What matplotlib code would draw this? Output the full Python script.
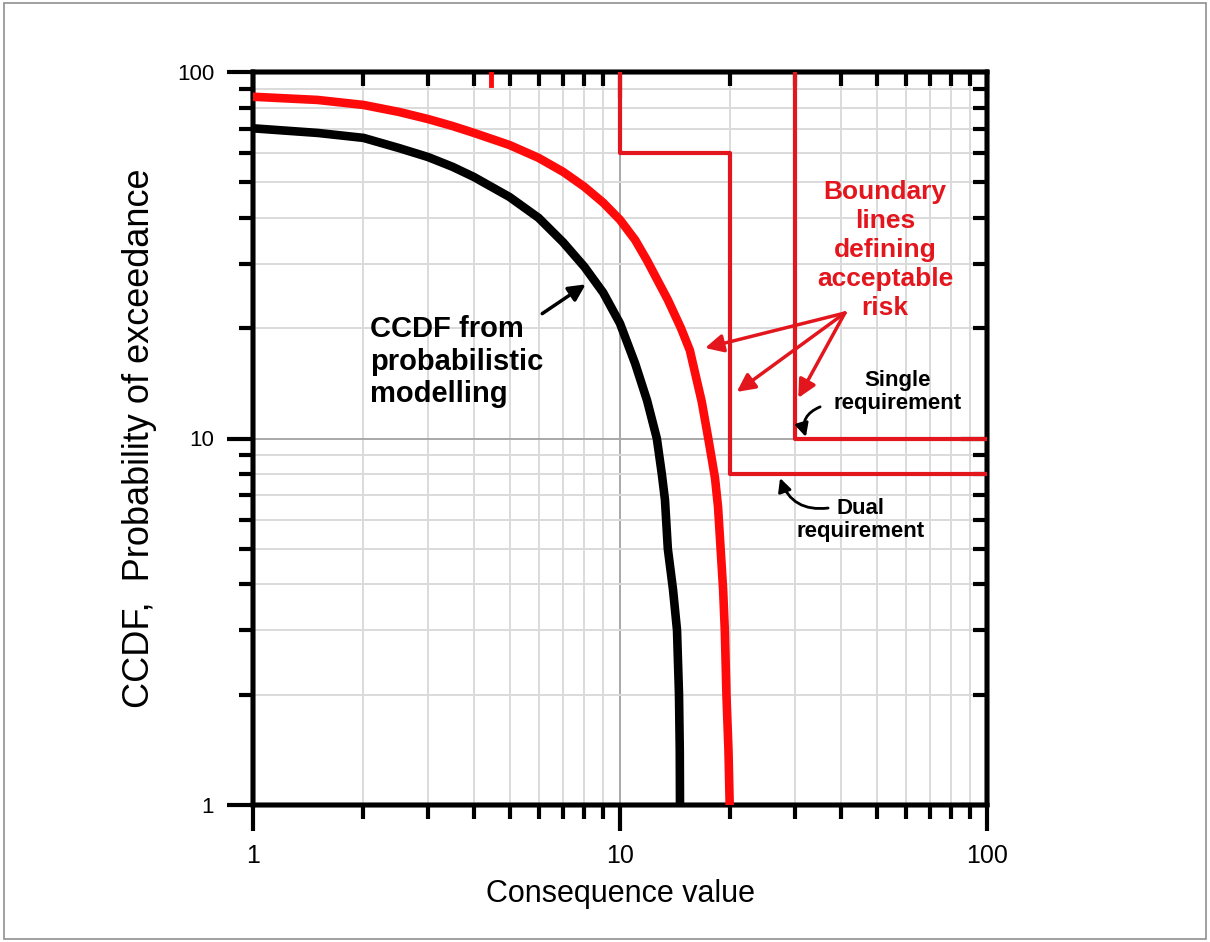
import matplotlib
matplotlib.use("Agg")
import matplotlib.pyplot as plt
from matplotlib.patches import Rectangle
from matplotlib.ticker import NullFormatter

plt.rcParams['font.family'] = ['Liberation Sans', 'DejaVu Sans']

# CCDF from probabilistic modelling (black)
ccdf_x = [1.0, 1.5, 2.0, 2.5, 3.0, 3.5, 4.0, 5.0, 6.0, 7.0, 8.0, 9.0, 10.0, 11.0, 11.85,
          12.6, 13.0, 13.26, 13.5, 13.95, 14.3, 14.48, 14.55, 14.57]
ccdf_y = [70.2, 68.2, 66.1, 62.0, 58.6, 55.1, 51.7, 45.6, 40.0, 34.3, 29.4, 25.0, 20.6, 16.0, 12.7,
          10.0, 8.0, 6.8, 5.0, 3.86, 3.0, 2.0, 1.41, 1.0]

# boundary curve (red, thick)
bound_x = [1.0, 1.5, 2.0, 2.5, 3.0, 3.5, 4.0, 5.0, 6.0, 7.0, 8.0, 9.0, 10.0, 11.0, 11.85,
           13.5, 14.66, 15.5, 16.7, 17.4, 18.15, 18.5, 18.8, 19.1, 19.3, 19.5, 19.75, 19.9]
bound_y = [85.6, 83.9, 81.3, 77.8, 74.4, 71.2, 68.2, 63.2, 58.3, 53.4, 48.6, 44.0, 39.5, 34.8, 30.6,
           23.9, 20.0, 17.4, 12.6, 10.0, 7.8, 6.5, 5.0, 3.86, 3.0, 2.0, 1.41, 1.0]

# stepped boundaries
dual_x = [10, 10, 20, 20, 100]
dual_y = [100, 60, 60, 8, 8]
single_x = [30, 30, 100]
single_y = [100, 10, 10]

fig = plt.figure(figsize=(12.10, 9.42), dpi=100)
rect = [253 / 1210, 1 - 805 / 942, 734 / 1210, 733 / 942]
ax = fig.add_axes(rect)
ax.set_xscale('log')
ax.set_yscale('log')
ax.set_xlim(1, 100)
ax.set_ylim(1, 100)

ax.grid(True, which='minor', color='#dadada', lw=1.4, zorder=0)
ax.grid(True, which='major', color='#a8a8a8', lw=1.4, zorder=0)
ax.set_axisbelow(True)

red = '#ff0a0a'
tred = '#e3161d'

for s in ax.spines.values():
    s.set_linewidth(3.2)
ax.tick_params(which='major', direction='out', length=19, width=3, labelsize=18, pad=9)
ax.tick_params(which='minor', direction='out', length=10, width=3)
ax.tick_params(axis='y', which='major', labelsize=16, pad=9)
ax.set_xticks([1, 10, 100], ['1', '10', '100'])
ax.set_yticks([1, 10, 100], ['1', '10', '100'])
ax.xaxis.set_minor_formatter(NullFormatter())
ax.yaxis.set_minor_formatter(NullFormatter())

# inward ticks on top and right (twin axes)
axt = ax.twiny()
axt.set_xscale('log')
axt.set_xlim(1, 100)
axt.tick_params(which='major', direction='in', length=19, width=3, labeltop=False)
axt.tick_params(which='minor', direction='in', length=10, width=3)
axt.xaxis.set_minor_formatter(NullFormatter())
axr = ax.twinx()
axr.set_yscale('log')
axr.set_ylim(1, 100)
axr.tick_params(which='major', direction='in', length=19, width=3, labelright=False)
axr.tick_params(which='minor', direction='in', length=10, width=3)
axr.yaxis.set_minor_formatter(NullFormatter())
for a in (axt, axr):
    for s in a.spines.values():
        s.set_linewidth(3.2)

# lines drawn on the top-most twin so they sit above the inward ticks
axr.plot(dual_x, dual_y, color=tred, lw=3.0, zorder=3)
axr.plot(single_x, single_y, color=tred, lw=3.0, zorder=3)
axr.plot([4.45, 4.45], [100, 92], color=red, lw=3.5, zorder=3)
axr.plot(bound_x, bound_y, color=red, lw=6.2, solid_capstyle='round', solid_joinstyle='round', zorder=4)
axr.plot(ccdf_x, ccdf_y, color='black', lw=6.2, solid_capstyle='round', solid_joinstyle='round', zorder=4)

ax.set_xlabel('Consequence value', fontsize=22, labelpad=8)
ax.set_ylabel('CCDF,  Probability of exceedance', fontsize=26, labelpad=14)

# annotations
axr.text(2.08, 16.2, 'CCDF from\nprobabilistic\nmodelling', fontsize=21, fontweight='bold',
         ha='left', va='center', linespacing=1.2, zorder=5)
axr.annotate('', xy=(8.18, 26.6), xytext=(6.05, 21.7),
             arrowprops=dict(arrowstyle='-|>', color='black', lw=2.5, mutation_scale=25), zorder=5)

axr.text(52.7, 32.7, 'Boundary\nlines\ndefining\nacceptable\nrisk', fontsize=19, fontweight='bold',
         color=tred, ha='center', va='center', linespacing=1.27, zorder=5)
for tip in [(17.05, 17.66), (20.8, 13.4), (30.6, 12.9)]:
    axr.annotate('', xy=tip, xytext=(41.0, 22.0),
                 arrowprops=dict(arrowstyle='-|>', color=tred, lw=2.5, mutation_scale=27,
                                 shrinkA=0, shrinkB=0), zorder=5)

axr.text(56.9, 13.4, 'Single\nrequirement', fontsize=16, fontweight='bold',
         ha='center', va='center', linespacing=1.15, zorder=5)
axr.annotate('', xy=(32.1, 10.1), xytext=(35.1, 12.2),
             arrowprops=dict(arrowstyle='-|>', color='black', lw=2, mutation_scale=20,
                             connectionstyle='arc3,rad=0.45', shrinkA=0, shrinkB=0), zorder=5)

axr.text(45.1, 5.99, 'Dual\nrequirement', fontsize=16, fontweight='bold',
         ha='center', va='center', linespacing=1.15, zorder=5)
axr.annotate('', xy=(27.3, 7.8), xytext=(36.9, 6.46),
             arrowprops=dict(arrowstyle='-|>', color='black', lw=2, mutation_scale=20,
                             connectionstyle='arc3,rad=-0.4', shrinkA=0, shrinkB=0), zorder=5)

fig.patches.append(Rectangle((0.003, 0.003), 0.994, 0.994, transform=fig.transFigure,
                             fill=False, edgecolor='#909090', lw=1.2))

fig.savefig('out.png', dpi=100)
